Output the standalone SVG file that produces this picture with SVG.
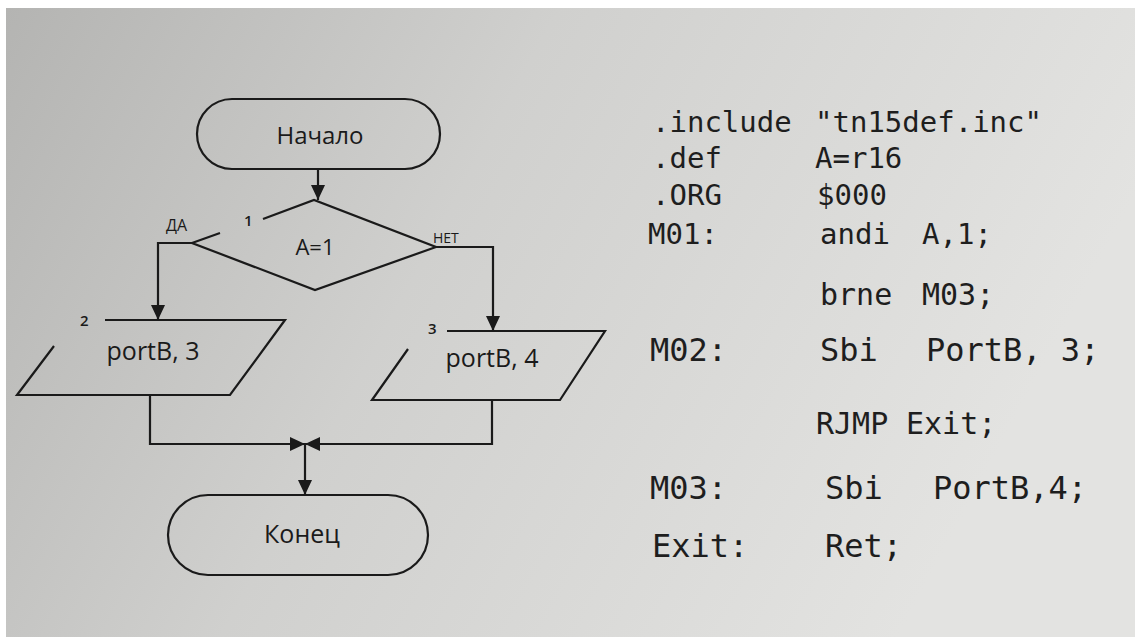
<svg xmlns="http://www.w3.org/2000/svg" width="1135" height="637" viewBox="0 0 1135 637">
  <defs>
    <linearGradient id="paper" x1="0" y1="0" x2="1" y2="0.3">
      <stop offset="0" stop-color="#b4b4b2"/>
      <stop offset="0.45" stop-color="#d0d0ce"/>
      <stop offset="1" stop-color="#e3e3e1"/>
    </linearGradient>
    <marker id="arr" viewBox="0 0 15 14" refX="15" refY="7" markerWidth="15" markerHeight="14" markerUnits="userSpaceOnUse" orient="auto">
      <path d="M0,0 L15,7 L0,14 Z" fill="#1a1a1a"/>
    </marker>
  </defs>
  <style>
    .ln { fill: none; stroke: #1a1a1a; stroke-width: 2.2; }
    .shape { fill: none; stroke: #1a1a1a; stroke-width: 2.2; }
    .lbl { font-family: "Open Sans", "Liberation Sans", sans-serif; fill: #1a1a1a; text-anchor: middle; }
    .num { font-family: "Open Sans", "Liberation Sans", sans-serif; fill: #1a1a1a; font-size: 15px; font-weight: 600; }
    .tag { font-family: "Open Sans", "Liberation Sans", sans-serif; fill: #1a1a1a; }
    .code { font-family: "DejaVu Sans Mono", "Liberation Mono", monospace; fill: #1e1e1e; }
  </style>
  <rect x="0" y="0" width="1135" height="637" fill="#ffffff"/>
  <rect x="6" y="8" width="1129" height="629" fill="url(#paper)"/>

  <g id="start">
    <rect class="shape" x="197" y="99" width="243" height="70" rx="35" ry="35"/>
    <text class="lbl" x="320" y="144" font-size="24">Начало</text>
  </g>

  <g id="decision">
    <path class="shape" d="M263,219 L314,200 L436,247 L315,290 L192,243 L220,233"/>
    <text class="num" x="244" y="226">1</text>
    <text class="lbl" x="315" y="255" font-size="22">A=1</text>
  </g>

  <g id="out3">
    <path class="shape" d="M105,320 L285,320 L230,395 L17,395 L54,346"/>
    <text class="num" x="80" y="326">2</text>
    <text class="lbl" x="153" y="360" font-size="25">portB, 3</text>
  </g>

  <g id="out4">
    <path class="shape" d="M447,331 L605,331 L560,400 L372,400 L408,349"/>
    <text class="num" x="428" y="334">3</text>
    <text class="lbl" x="492" y="367" font-size="25">portB, 4</text>
  </g>

  <g id="end">
    <rect class="shape" x="168" y="495" width="260" height="80" rx="40" ry="40"/>
    <text class="lbl" x="302" y="543" font-size="25">Конец</text>
  </g>

  <g id="connectors">
    <line class="ln" x1="318" y1="169" x2="318" y2="200" marker-end="url(#arr)"/>
    <polyline class="ln" points="192,243 158,243 158,320" marker-end="url(#arr)"/>
    <polyline class="ln" points="436,247 493,247 493,331" marker-end="url(#arr)"/>
    <polyline class="ln" points="150,395 150,444 305,444" marker-end="url(#arr)"/>
    <polyline class="ln" points="492,400 492,444 305,444" marker-end="url(#arr)"/>
    <line class="ln" x1="305" y1="444" x2="305" y2="495" marker-end="url(#arr)"/>
    <text class="tag" x="166" y="231" font-size="16">ДА</text>
    <text class="tag" x="433" y="243" font-size="14">НЕТ</text>
  </g>

  <g id="code">
    <text class="code" font-size="29" y="132"><tspan x="652">.include</tspan><tspan x="815">"tn15def.inc"</tspan></text>
    <text class="code" font-size="29" y="168"><tspan x="652">.def</tspan><tspan x="815">A=r16</tspan></text>
    <text class="code" font-size="29" y="205"><tspan x="652">.ORG</tspan><tspan x="817">$000</tspan></text>
    <text class="code" font-size="29" y="244"><tspan x="648">M01:</tspan><tspan x="820">andi</tspan><tspan x="922">A,1;</tspan></text>
    <text class="code" font-size="30" y="305"><tspan x="820">brne</tspan><tspan x="922">M03;</tspan></text>
    <text class="code" font-size="32" y="361"><tspan x="650">M02:</tspan><tspan x="820">Sbi</tspan><tspan x="926">PortB, 3;</tspan></text>
    <text class="code" font-size="30" y="434"><tspan x="816">RJMP</tspan><tspan x="906">Exit;</tspan></text>
    <text class="code" font-size="32" y="499"><tspan x="650">M03:</tspan><tspan x="825">Sbi</tspan><tspan x="933">PortB,4;</tspan></text>
    <text class="code" font-size="32" y="557"><tspan x="652">Exit:</tspan><tspan x="825">Ret;</tspan></text>
  </g>
</svg>
